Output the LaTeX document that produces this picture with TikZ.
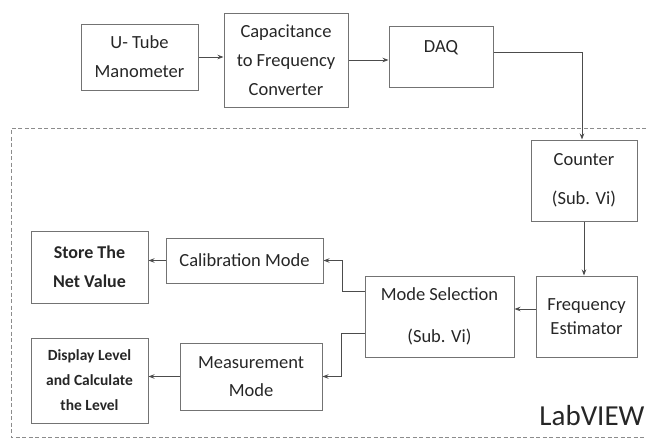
\documentclass[tikz,border=0pt]{standalone}
\usepackage{fontspec}
\setmainfont{Carlito}
\usepackage{tikz}
\usetikzlibrary{arrows.meta}

\begin{document}
\begin{tikzpicture}[x=1pt, y=-1pt]
                \useasboundingbox (0,0) rectangle (646,439);
                \draw[black!45, thick, dash pattern=on 4pt off 2.5pt] (646,128) -- (11,128) -- (11,437) -- (646,437);

                \begin{scope}[every node/.style={draw=black!55, line width=1pt, rectangle, inner sep=0, align=center, text=black!85, font=\fontsize{18.5}{29}\selectfont}]
                        \node [minimum width=117, minimum height=66] (UT) at (139.5,57) {U- Tube\\Manometer};
                        \node [minimum width=124, minimum height=94] (CF) at (286,60) {Capacitance\\to Frequency\\Converter};
                        \node [minimum width=104, minimum height=61, text depth=20] (DAQ) at (441,56.5) {DAQ};
                        \node [minimum width=106, minimum height=81] (C) at (584,180.5) {Counter\\[10pt](Sub. Vi)};
                        \node [minimum width=101, minimum height=81, font=\fontsize{18.5}{24}\selectfont] (FE) at (586.5,316.5) {Frequency\\Estimator};
                        \node [minimum width=149, minimum height=81] (MS) at (439.5,316.5) {Mode Selection\\[13pt](Sub. Vi)};
                        \node [minimum width=157, minimum height=45] (CM) at (244.5,260.5) {Calibration Mode};
                        \node [minimum width=117, minimum height=72, font=\bfseries\fontsize{18}{29}\selectfont] (SV) at (89.5,267) {Store The\\Net Value};
                        \node [minimum width=142, minimum height=67, font=\fontsize{18.5}{28}\selectfont] (MM) at (251,376.5) {Measurement\\Mode};
                        \node [minimum width=117, minimum height=85, font=\bfseries\fontsize{15.5}{25}\selectfont] (DL) at (89.5,380.5) {Display Level\\and Calculate\\the Level};
                        \node [draw=none, anchor=base east, text=black!85, font=\fontsize{29}{29}\selectfont] (L) at (645,425) {LabVIEW};
                \end{scope}

                \begin{scope}[draw=black!70, line width=0.9pt, ->, >={Stealth[length=6pt,width=4.5pt]}]
                        \draw (UT.east) -- (UT.east -| CF.west);
                        \draw (CF.east) -- (CF.east -| DAQ.west);
                        \draw ([yshift=4.5pt]DAQ.east) -| ([xshift=-2pt]C.north);
                        \draw (C.south) -- (C.south |- FE.north);
                        \draw ([yshift=7.5pt]FE.west) -- ([yshift=7.5pt]MS.east);
                        \draw ([yshift=25.5pt]MS.west) -- ++(-22,0) |- (CM.east);
                        \draw ([yshift=-16.5pt]MS.west) -- ++(-23,0) |- (MM.east);
                        \draw (CM.west) -- (CM.west -| SV.east);
                        \draw (MM.west) -- (MM.west -| DL.east);
                \end{scope}
\end{tikzpicture}
\end{document}
